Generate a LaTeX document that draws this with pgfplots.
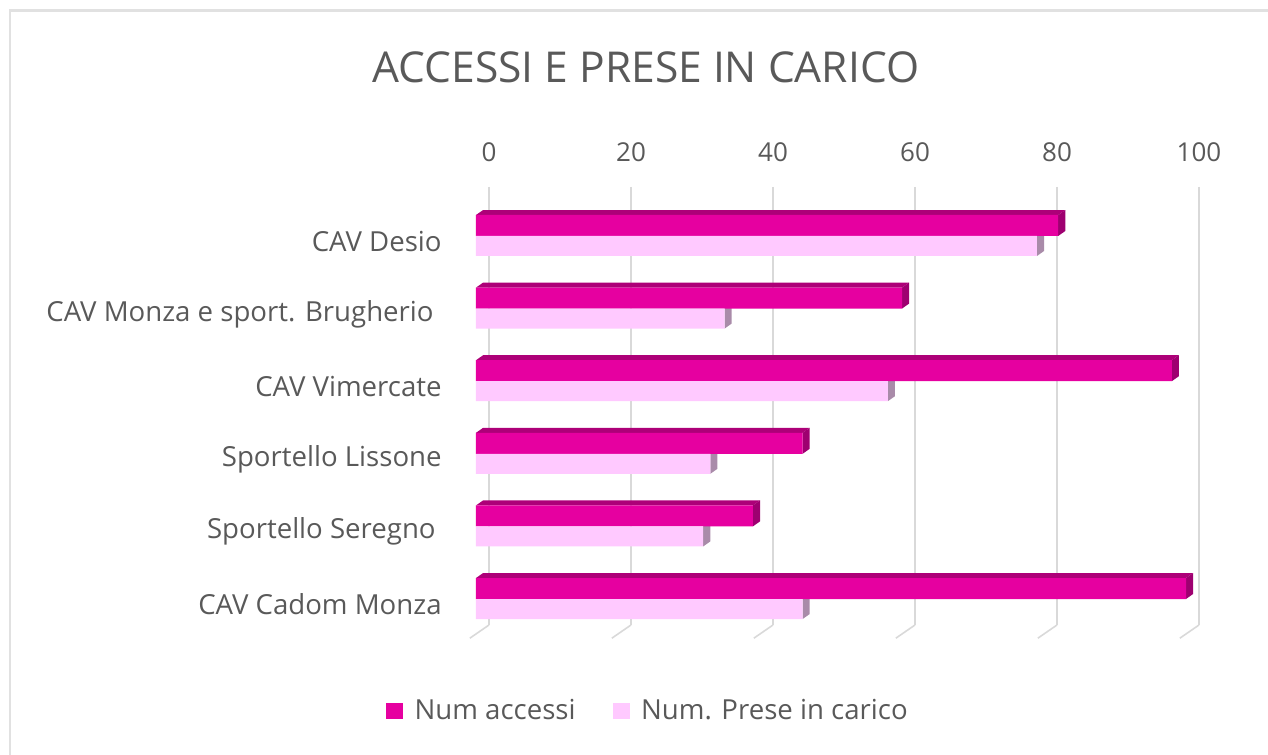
\documentclass[border=0pt]{standalone}
\usepackage{pgfplots}
\pgfplotsset{compat=1.18}
\usepackage{fontspec}
\setmainfont{Open Sans}
\definecolor{darkf}{HTML}{E600A0}
\definecolor{darkt}{HTML}{AD0078}
\definecolor{darks}{HTML}{9E0070}
\definecolor{lightf}{HTML}{FFC9FF}
\definecolor{lights}{HTML}{A98BA9}
\definecolor{txt}{HTML}{595959}
\definecolor{gridc}{HTML}{D9D9D9}
\begin{document}
\begin{tikzpicture}
\useasboundingbox (0,0) rectangle (951pt,566.25pt);
\draw[draw=gridc!80,line width=1.8pt] (7.5pt,-5pt) rectangle (960pt,558.4pt);
\begin{axis}[
  at={(366.75pt,97.5pt)},anchor=south west,
  scale only axis,width=532.5pt,height=328.5pt,
  xmin=0,xmax=100,ymin=-0.675,ymax=5.358,y dir=reverse,
  clip=false,
  /pgf/number format/assume math mode=true,
  axis line style={draw=none},
  major tick style={draw=none},
  xtick={0,20,40,60,80,100},
  xmajorgrids,
  grid style={draw=gridc,line width=1.2pt},
  xticklabel pos=right,
  xticklabel style={font=\fontsize{19.5pt}{22pt}\selectfont,text=txt,yshift=15.5pt},
  ytick={0,1,2,3,4,5},
  yticklabels={CAV Desio,CAV Monza e sport. Brugherio\kern6pt\null,CAV Vimercate,Sportello Lissone,Sportello Seregno\kern4.5pt\null,CAV Cadom Monza},
  yticklabel style={font=\fontsize{20.7pt}{24pt}\selectfont,text=txt,yshift=-4pt,xshift=-32pt},
  title={ACCESSI E PRESE IN CARICO},
  title style={font=\fontsize{31.9pt}{38pt}\selectfont,text=txt,at={(axis description cs:0.221,1.254)},anchor=center},
  legend style={draw=none,fill=none,at={(axis description cs:0.2245,-0.196)},anchor=center,
    font=\fontsize{20.7pt}{24pt}\selectfont,text=txt,legend columns=2,
    /tikz/every even column/.append style={column sep=26pt}},
  legend cell align=left,
]
% floor ticks of the gridlines
\addplot[gridc,line width=1.2pt,forget plot,unbounded coords=jump] coordinates {
 (0,5.358)(-2.7,5.54) (nan,nan)
 (20,5.358)(17.3,5.54) (nan,nan)
 (40,5.358)(37.3,5.54) (nan,nan)
 (60,5.358)(57.3,5.54) (nan,nan)
 (80,5.358)(77.3,5.54) (nan,nan)
 (100,5.358)(97.3,5.54)};
% side faces of the light bars
\addplot[fill=lights,draw=none,xshift=-9.75pt,forget plot,unbounded coords=jump] coordinates {
 (79,0)(80,-0.069)(80,0.207)(79,0.276)(79,0) (nan,nan)
 (35,1)(36,0.931)(36,1.207)(35,1.276)(35,1) (nan,nan)
 (58,2)(59,1.931)(59,2.207)(58,2.276)(58,2) (nan,nan)
 (33,3)(34,2.931)(34,3.207)(33,3.276)(33,3) (nan,nan)
 (32,4)(33,3.931)(33,4.207)(32,4.276)(32,4) (nan,nan)
 (46,5)(47,4.931)(47,5.207)(46,5.276)(46,5)};
% top faces of the dark bars
\addplot[fill=darkt,draw=none,xshift=-9.75pt,forget plot,unbounded coords=jump] coordinates {
 (0,-0.289)(82,-0.289)(83,-0.358)(1,-0.358)(0,-0.289) (nan,nan)
 (0,0.711)(60,0.711)(61,0.642)(1,0.642)(0,0.711) (nan,nan)
 (0,1.711)(98,1.711)(99,1.642)(1,1.642)(0,1.711) (nan,nan)
 (0,2.711)(46,2.711)(47,2.642)(1,2.642)(0,2.711) (nan,nan)
 (0,3.711)(39,3.711)(40,3.642)(1,3.642)(0,3.711) (nan,nan)
 (0,4.711)(100,4.711)(101,4.642)(1,4.642)(0,4.711)};
% side faces of the dark bars
\addplot[fill=darks,draw=none,xshift=-9.75pt,forget plot,unbounded coords=jump] coordinates {
 (82,-0.289)(83,-0.358)(83,-0.069)(82,0)(82,-0.289) (nan,nan)
 (60,0.711)(61,0.642)(61,0.931)(60,1)(60,0.711) (nan,nan)
 (98,1.711)(99,1.642)(99,1.931)(98,2)(98,1.711) (nan,nan)
 (46,2.711)(47,2.642)(47,2.931)(46,3)(46,2.711) (nan,nan)
 (39,3.711)(40,3.642)(40,3.931)(39,4)(39,3.711) (nan,nan)
 (100,4.711)(101,4.642)(101,4.931)(100,5)(100,4.711)};
% front faces
\addplot[xbar,bar width=15.75pt,bar shift=7.875pt,fill=darkf,draw=none,xshift=-9.75pt,forget plot] coordinates {
 (82,0)(60,1)(98,2)(46,3)(39,4)(100,5)};
\addplot[xbar,bar width=15pt,bar shift=-7.5pt,fill=lightf,draw=none,xshift=-9.75pt,forget plot] coordinates {
 (79,0)(35,1)(58,2)(33,3)(32,4)(46,5)};
\addlegendimage{legend image code/.code={\fill[darkf] (0pt,-5.5pt) rectangle (12pt,5.5pt);\path (18.75pt,0pt);}}
\addlegendentry{Num accessi}
\addlegendimage{legend image code/.code={\fill[lightf] (0pt,-5.5pt) rectangle (12pt,5.5pt);\path (18.75pt,0pt);}}
\addlegendentry{Num. Prese in carico}
\end{axis}
\end{tikzpicture}
\end{document}
